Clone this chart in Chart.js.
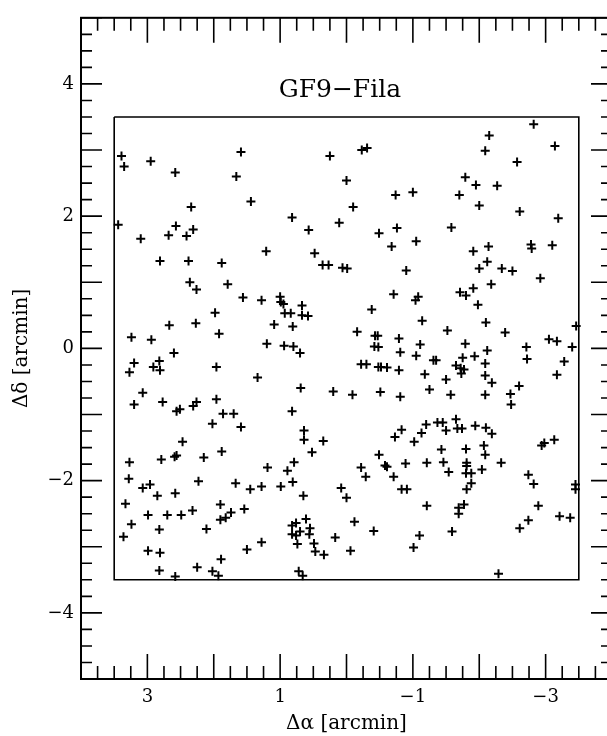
<!DOCTYPE html>
<html>
<head>
<meta charset="utf-8">
<script src="https://cdn.jsdelivr.net/npm/chart.js@4.4.0/dist/chart.umd.min.js"></script>
<style>
html, body { margin: 0; padding: 0; overflow: hidden; background: #fff; }
#wrap { width: 620px; height: 736px; }
</style>
</head>
<body>
<div id="wrap"><canvas id="fieldChart"></canvas></div>
<script>
// source offsets (arcmin)
const starX = [
  3.39, 3.35, 2.95, 2.58, 1.59, 1.66, 1.44, 0.25, 0.00, 2.34, 3.44, 2.57, 2.68, 3.10, 2.31, 2.41, 0.82, 0.57,
  0.11, 1.21, 0.48, 2.81, 2.38, 1.88, 0.36, 0.27, 0.06, -0.01, 2.36, 2.26, 1.79, 1.56, 1.28, 1.00, 0.99, 0.95,
  0.67, 0.93, 0.84, 0.67, 0.58, 1.98, 2.67, 2.27, 1.09, 0.81, 3.24, 2.94, 1.92, 1.20, 0.94, 0.80, 2.60, 0.70,
  -2.82, -2.15, -0.23, -0.31, -2.09, -3.14, -2.57, -1.79, -1.95, -2.27, -0.74, -1.00, -1.70, -0.10, -2.00, -2.61,
  -3.19, -0.49, -0.76, -1.05, -1.58, -0.68, -1.91, -2.14, -2.78, -2.79, -3.10, -0.90, -2.00, -2.12, -2.34, -2.50,
  -2.92, -2.18, -0.71, -1.04, -1.08, -1.71, -1.80, -1.91, -1.98, -0.38, -1.14, -2.10, -3.46, -0.16, -0.43, -0.47,
  -0.79, -1.52, -2.39, -3.05, -3.17,
  -0.42, -0.48, -0.81, -1.11, -1.79, -2.12, -2.71, -3.40, -1.05, -1.31, -1.35, -1.75, -1.93, -2.72, -0.22, -0.30,
  -0.48, -0.52, -0.61, -0.79, -1.65, -1.72, -1.77, -1.73, -2.09, -3.28, -1.18, -2.09, -1.50, -2.19, -3.17, -2.60,
  -1.25, -0.09, -0.51, -0.81, -1.57, -2.09, -2.47, -2.48, -1.65, -0.83, -0.73, -1.20, -1.37, -1.45, -1.50, -1.67,
  -1.74, -1.94, -2.10, -2.19, -1.13, -1.02, -1.43, -1.80, -2.07, -2.09, -0.49, -2.94, -2.98, -3.13, -0.22, -0.29,
  -0.58, -0.61, -0.71, -0.89, -1.21, -1.46, -1.54, -1.81, -1.81, -1.80, -1.88, -2.04, -2.33, -1.88, -1.81, -0.83,
  -0.91, 0.08, 0.00, -2.74, -2.82, -3.45, -3.45, -1.21, -1.69, -1.77, -1.69, -2.89, -3.21, -3.37, -2.74, -2.61,
  -0.12, -0.41, -1.10, -1.01, -1.59, -0.06, 0.17, -2.29,
  3.20, 3.27, 2.91, 2.82, 2.81, 1.96, 1.34, 3.07, 3.20, 2.77, 2.56, 2.51, 2.31, 2.26, 1.96, 1.86, 1.70, 2.02,
  1.59, 0.69, 0.20, 0.82, 0.64, 0.64, 0.35, 0.52, 2.47, 3.27, 2.79, 2.59, 2.56, 2.15, 1.88, 1.19, 0.89, 0.79,
  3.28, 3.07, 2.96, 2.85, 2.58, 2.23, 1.67, 1.45, 1.28, 0.99, 0.81, 0.65, 3.33, 2.99, 2.70, 2.49, 2.32, 1.90,
  1.90, 1.82, 1.74, 1.54, 3.24, 3.36, 2.82, 2.11, 0.61, 0.82, 0.76, 0.70, 0.82, 0.76, 0.55, 0.56, 0.74, 0.49,
  0.47, 0.34, 1.28, 1.50, 2.99, 2.81, 1.89, 2.82, 2.25, 2.02, 1.93, 2.58, 0.72, 0.66
];
const starY = [
  2.91, 2.75, 2.83, 2.66, 2.97, 2.60, 2.22, 2.91, 2.54, 2.14, 1.87, 1.85, 1.71, 1.66, 1.80, 1.70, 1.98, 1.79,
  1.90, 1.47, 1.44, 1.32, 1.32, 1.29, 1.26, 1.26, 1.22, 1.21, 1.00, 0.89, 0.97, 0.77, 0.73, 0.78, 0.70, 0.67,
  0.65, 0.53, 0.53, 0.50, 0.49, 0.54, 0.35, 0.38, 0.36, 0.33, 0.17, 0.13, 0.22, 0.07, 0.04, 0.03, -0.07, -0.07,
  3.39, 3.22, 3.00, 3.03, 2.99, 3.06, 2.82, 2.59, 2.47, 2.46, 2.32, 2.36, 2.32, 2.14, 2.16, 2.07,
  1.97, 1.74, 1.82, 1.62, 1.83, 1.54, 1.47, 1.54, 1.57, 1.51, 1.56, 1.18, 1.21, 1.31, 1.21, 1.17,
  1.06, 0.97, 0.82, 0.73, 0.78, 0.85, 0.80, 0.91, 0.66, 0.59, 0.42, 0.39, 0.34, 0.25, 0.19, 0.19,
  0.15, 0.27, 0.24, 0.14, 0.11,
  0.03, 0.02, -0.06, 0.06, 0.07, -0.03, 0.02, 0.02, -0.11, -0.18, -0.18, -0.14, -0.12, -0.16, -0.24, -0.24,
  -0.28, -0.28, -0.29, -0.33, -0.26, -0.30, -0.32, -0.38, -0.23, -0.20, -0.39, -0.41, -0.47, -0.52, -0.40, -0.57,
  -0.62, -0.70, -0.66, -0.73, -0.70, -0.70, -0.69, -0.85, -1.07, -1.23, -1.34, -1.15, -1.12, -1.12, -1.24, -1.21,
  -1.21, -1.17, -1.20, -1.29, -1.28, -1.41, -1.53, -1.52, -1.47, -1.61, -1.61, -1.47, -1.43, -1.38, -1.80, -1.94,
  -1.77, -1.79, -1.94, -1.74, -1.73, -1.72, -1.87, -1.73, -1.78, -1.89, -1.89, -1.83, -1.73, -2.04, -2.13, -2.13,
  -2.13, -2.11, -2.26, -1.91, -2.05, -2.06, -2.13, -2.38, -2.41, -2.36, -2.50, -2.38, -2.54, -2.56, -2.60, -2.72,
  -2.62, -2.76, -2.83, -3.01, -2.77, -3.06, -2.86, -3.41,
  -0.22, -0.36, -0.28, -0.19, -0.33, -0.28, -0.44, -0.67, -0.85, -0.81, -0.95, -0.92, -0.87, -0.81, -0.77, -0.99, -0.99, -1.14,
  -1.19, -0.60, -0.65, -0.95, -1.24, -1.38, -1.40, -1.57, -1.41, -1.72, -1.68, -1.64, -1.62, -1.65, -1.56, -1.80, -1.85, -1.72,
  -1.97, -2.11, -2.06, -2.23, -2.19, -2.01, -2.04, -2.13, -2.09, -2.09, -2.02, -2.23, -2.35, -2.52, -2.52, -2.52, -2.45, -2.36,
  -2.59, -2.56, -2.48, -2.43, -2.66, -2.85, -2.74, -2.73, -2.58, -2.68, -2.64, -2.77, -2.81, -2.83, -2.72, -2.81, -2.96, -2.95,
  -3.07, -3.12, -2.93, -3.04, -3.06, -3.09, -3.19, -3.36, -3.31, -3.37, -3.44, -3.45, -3.37, -3.44
];

// mapped field outline
const boxX = [3.5, -3.5, -3.5, 3.5, 3.5];
const boxY = [3.5, 3.5, -3.5, -3.5, 3.5];

// axes
const xRange = [-4, 4];
const yRange = [-5, 5];
const xTickLabels = [3, 1, -1, -3];
const yTickLabels = [4, 2, 0, -2, -4];

const plotTitle = 'GF9\u2212Fila';

const serif = '"DejaVu Serif", "Liberation Serif", serif';

function fmt(v) {
    return v < 0 ? '\u2212' + Math.abs(v) : String(v);
}
function isWhole(v) {
    return Math.abs(v - Math.round(v)) < 1e-6;
}

const stars = starX.map((x, i) => ({ x: x, y: starY[i] }));
const outline = boxX.map((x, i) => ({ x: x, y: boxY[i] }));

// inward ticks on all four sides, frame, and the in-plot label
const frameTicks = {
    id: 'frameTicks',
    afterDraw(chart) {
        const { ctx, chartArea: a, scales: { x, y } } = chart;
        ctx.save();
        ctx.strokeStyle = '#000';
        ctx.lineWidth = 1.6;
        ctx.beginPath();
        x.ticks.forEach(t => {
            const px = x.getPixelForValue(t.value);
            const len = isWhole(t.value) ? 25 : 13;
            ctx.moveTo(px, a.bottom); ctx.lineTo(px, a.bottom - len);
            ctx.moveTo(px, a.top); ctx.lineTo(px, a.top + len);
        });
        y.ticks.forEach(t => {
            const py = y.getPixelForValue(t.value);
            const len = isWhole(t.value) ? 21 : 11;
            ctx.moveTo(a.left, py); ctx.lineTo(a.left + len, py);
            ctx.moveTo(a.right, py); ctx.lineTo(a.right - len, py);
        });
        ctx.stroke();
        ctx.lineWidth = 2;
        ctx.strokeRect(a.left, a.top, a.right - a.left, a.bottom - a.top);

        ctx.fillStyle = '#000';
        ctx.font = '25px ' + serif;
        ctx.textAlign = 'center';
        ctx.textBaseline = 'alphabetic';
        ctx.fillText(plotTitle, x.getPixelForValue(0.1), y.getPixelForValue(3.8));
        ctx.restore();
    }
};

const ctx = document.getElementById('fieldChart').getContext('2d');

const config = {
    type: 'scatter',
    data: {
        datasets: [{
            label: 'sources',
            data: stars,
            pointStyle: 'cross',
            pointRadius: 4.5,
            pointBorderWidth: 2,
            borderColor: '#000',
            backgroundColor: '#000'
        }, {
            label: 'field',
            data: outline,
            showLine: true,
            pointRadius: 0,
            borderColor: '#000',
            borderWidth: 1.6,
            fill: false,
            tension: 0
        }]
    },
    options: {
        responsive: true,
        maintainAspectRatio: false,
        animation: false,
        layout: { padding: { top: 12, right: 4, left: 0, bottom: 0 } },
        scales: {
            x: {
                type: 'linear',
                reverse: true,
                min: xRange[0],
                max: xRange[1],
                afterFit: s => { s.height = 57; },
                grid: { display: false, drawTicks: false },
                border: { display: false },
                ticks: {
                    stepSize: 0.25,
                    maxTicksLimit: 100,
                    autoSkip: false,
                    maxRotation: 0,
                    padding: 8,
                    color: '#000',
                    font: { family: serif, size: 18 },
                    callback: v => (isWhole(v) && xTickLabels.includes(Math.round(v))) ? fmt(Math.round(v)) : ''
                },
                title: {
                    display: true,
                    text: '\u0394\u03b1 [arcmin]',
                    color: '#000',
                    font: { family: serif, size: 20 },
                    padding: { top: 0, bottom: 0 }
                }
            },
            y: {
                type: 'linear',
                min: yRange[0],
                max: yRange[1],
                afterFit: s => { s.width = 81; },
                grid: { display: false, drawTicks: false },
                border: { display: false },
                ticks: {
                    stepSize: 0.25,
                    maxTicksLimit: 100,
                    autoSkip: false,
                    padding: 7,
                    color: '#000',
                    font: { family: serif, size: 18 },
                    callback: v => (isWhole(v) && yTickLabels.includes(Math.round(v))) ? fmt(Math.round(v)) : ''
                },
                title: {
                    display: true,
                    text: '\u0394\u03b4 [arcmin]',
                    color: '#000',
                    font: { family: serif, size: 20 },
                    padding: { top: 10, bottom: 0 }
                }
            }
        },
        plugins: {
            legend: { display: false },
            tooltip: { enabled: false }
        }
    },
    plugins: [frameTicks]
};

const fieldChart = new Chart(ctx, config);
</script>
</body>
</html>
